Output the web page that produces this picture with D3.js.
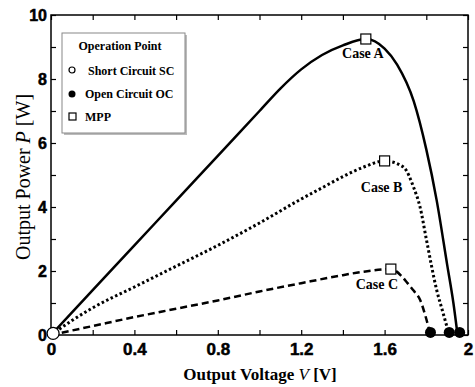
<!DOCTYPE html>
<html>
<head>
<meta charset="utf-8">
<script src="https://cdn.jsdelivr.net/npm/d3@7"></script>
<style>
  body { margin: 0; background: #fff; }
  .tick text { font-family: "Liberation Sans", Arial, sans-serif; font-weight: bold; fill: #000; stroke: #000; stroke-width: 0.5px; }
  .domain { display: none; }
  .tick line { stroke: #000; stroke-width: 1.2; }
</style>
</head>
<body>
<div id="chart"></div>
<script>
// Curve data
var voltA = [0, 0.2, 0.4, 0.6, 0.8, 1.0, 1.1, 1.2, 1.3, 1.4, 1.51, 1.6, 1.66, 1.74, 1.8, 1.85, 1.9, 1.93, 1.95];
var powerA = [0, 1.4, 2.8, 4.2, 5.6, 7.0, 7.7, 8.3, 8.75, 9.05, 9.25, 8.95, 8.45, 7.3, 5.8, 4.2, 2.2, 1.0, 0];

var voltB = [0, 0.1, 0.2, 0.4, 0.6, 0.8, 1.0, 1.2, 1.3, 1.4, 1.5, 1.6, 1.69, 1.74, 1.77, 1.8, 1.85, 1.88, 1.91];
var powerB = [0, 0.45, 0.85, 1.5, 2.15, 2.8, 3.5, 4.25, 4.6, 4.95, 5.25, 5.44, 5.25, 4.6, 4.0, 3.0, 1.4, 0.7, 0];

var voltC = [0, 0.2, 0.4, 0.6, 0.8, 1.0, 1.2, 1.4, 1.5, 1.63, 1.68, 1.71, 1.74, 1.77, 1.8, 1.82];
var powerC = [0, 0.28, 0.56, 0.82, 1.08, 1.36, 1.62, 1.87, 1.98, 2.06, 1.85, 1.62, 1.38, 1.1, 0.5, 0];

// Operation points
var scPoint = [0.01, 0.05];
var ocVolt = [1.82, 1.91, 1.96];
var ocPower = [0.08, 0.08, 0.08];
var mppVolt = [1.51, 1.60, 1.63];
var mppPower = [9.25, 5.44, 2.06];
var caseNames = ["Case A", "Case B", "Case C"];

var legendTitle = "Operation Point";
var legendItems = ["Short Circuit SC", "Open Circuit OC", "MPP"];

var xTicks = [0, 0.2, 0.4, 0.6, 0.8, 1.0, 1.2, 1.4, 1.6, 1.8, 2.0];
var yTicks = [0, 1, 2, 3, 4, 5, 6, 7, 8, 9, 10];

// Chart area
var svgWidth = 475;
var svgHeight = 387;
var margin = { top: 15, right: 7, bottom: 52, left: 51 };
var chartWidth = svgWidth - margin.left - margin.right;
var chartHeight = svgHeight - margin.top - margin.bottom;

var svg = d3.select("#chart").append("svg")
  .attr("width", svgWidth)
  .attr("height", svgHeight);

var chartGroup = svg.append("g")
  .attr("transform", `translate(${margin.left}, ${margin.top})`);

var x = d3.scaleLinear().domain([0, 2]).range([0, chartWidth]);
var y = d3.scaleLinear().domain([0, 10]).range([chartHeight, 0]);

function xFmt(d) {
  var k = Math.round(d * 10);
  if (k % 4 !== 0) return "";
  return k === 0 ? "0" : (k === 20 ? "2" : d3.format(".1f")(d));
}
function yFmt(d) { return d % 2 === 0 ? d : ""; }

// axes, ticks inward
var bottomAxis = d3.axisBottom(x).tickValues(xTicks).tickFormat(xFmt).tickSize(-5).tickPadding(8);
var leftAxis = d3.axisLeft(y).tickValues(yTicks).tickFormat(yFmt).tickSize(-5).tickPadding(4);
var topAxis = d3.axisTop(x).tickValues(xTicks).tickFormat("").tickSize(-5);
var rightAxis = d3.axisRight(y).tickValues(yTicks).tickFormat("").tickSize(-5);

chartGroup.append("g").attr("transform", `translate(0, ${chartHeight})`).call(bottomAxis)
  .selectAll("text").style("font-size", "17px");
chartGroup.append("g").call(leftAxis)
  .selectAll("text").style("font-size", "16px");
chartGroup.append("g").call(topAxis);
chartGroup.append("g").attr("transform", `translate(${chartWidth}, 0)`).call(rightAxis);

chartGroup.append("rect")
  .attr("width", chartWidth)
  .attr("height", chartHeight)
  .attr("fill", "none")
  .attr("stroke", "#000")
  .attr("stroke-width", 1.5);

// curves
var line = d3.line()
  .x(function(d) { return x(d[0]); })
  .y(function(d) { return y(d[1]); })
  .curve(d3.curveMonotoneX);

var curves = [
  { v: voltA, p: powerA, dash: null, w: 2.5 },
  { v: voltB, p: powerB, dash: "2.5,2.5", w: 3 },
  { v: voltC, p: powerC, dash: "7,4", w: 2.5 }
];

curves.forEach(function(c) {
  chartGroup.append("path")
    .datum(d3.zip(c.v, c.p))
    .attr("d", line)
    .attr("fill", "none")
    .attr("stroke", "#000")
    .attr("stroke-width", c.w)
    .attr("stroke-dasharray", c.dash);
});

// open circuit points
chartGroup.selectAll(".oc")
  .data(d3.zip(ocVolt, ocPower))
  .enter()
  .append("circle")
  .attr("cx", function(d) { return x(d[0]); })
  .attr("cy", function(d) { return y(d[1]); })
  .attr("r", 5.5)
  .attr("fill", "#000");

// short circuit point
chartGroup.append("circle")
  .attr("cx", x(scPoint[0]))
  .attr("cy", y(scPoint[1]))
  .attr("r", 6)
  .attr("fill", "#fff")
  .attr("stroke", "#000")
  .attr("stroke-width", 1.3);

// MPP squares
chartGroup.selectAll(".mpp")
  .data(d3.zip(mppVolt, mppPower))
  .enter()
  .append("rect")
  .attr("x", function(d) { return x(d[0]) - 5; })
  .attr("y", function(d) { return y(d[1]) - 5; })
  .attr("width", 10)
  .attr("height", 10)
  .attr("fill", "#fff")
  .attr("stroke", "#000")
  .attr("stroke-width", 1.2);

// case labels
var labelOffset = [[-3, 19], [-3, 31], [-14, 20]];
chartGroup.selectAll(".caseLabel")
  .data(caseNames)
  .enter()
  .append("text")
  .attr("x", function(d, i) { return x(mppVolt[i]) + labelOffset[i][0]; })
  .attr("y", function(d, i) { return y(mppPower[i]) + labelOffset[i][1]; })
  .attr("text-anchor", "middle")
  .style("font-family", "'Liberation Serif', 'Times New Roman', serif")
  .style("font-weight", "bold")
  .style("font-size", "14px")
  .text(function(d) { return d; });

// legend
var legend = svg.append("g").attr("transform", "translate(62, 33)");
legend.append("rect").attr("x", 2).attr("y", 2).attr("width", 123).attr("height", 100).attr("fill", "#bbb");
legend.append("rect").attr("width", 123).attr("height", 100)
  .attr("fill", "#fff").attr("stroke", "#888").attr("stroke-width", 1);

legend.append("text")
  .attr("x", 58).attr("y", 17)
  .attr("text-anchor", "middle")
  .style("font-family", "'Liberation Serif', serif")
  .style("font-weight", "bold")
  .style("font-size", "12px")
  .text(legendTitle);

legend.selectAll(".item")
  .data(legendItems)
  .enter()
  .append("text")
  .attr("x", function(d, i) { return i === 0 ? 26 : 23; })
  .attr("y", function(d, i) { return 42 + i * 23; })
  .style("font-family", "'Liberation Serif', serif")
  .style("font-weight", "bold")
  .style("font-size", "12px")
  .text(function(d) { return d; });

legend.append("circle").attr("cx", 10).attr("cy", 37).attr("r", 3)
  .attr("fill", "#fff").attr("stroke", "#000").attr("stroke-width", 1.2);
legend.append("circle").attr("cx", 10).attr("cy", 61).attr("r", 3.5).attr("fill", "#000");
legend.append("rect").attr("x", 7).attr("y", 80).attr("width", 7).attr("height", 7)
  .attr("fill", "#fff").attr("stroke", "#000").attr("stroke-width", 1.2);

// axis titles
var yTitle = svg.append("text")
  .attr("transform", "translate(30, 177) rotate(-90)")
  .attr("text-anchor", "middle")
  .style("font-family", "'Liberation Serif', serif")
  .style("font-size", "20px");
yTitle.append("tspan").text("Output Power ");
yTitle.append("tspan").style("font-style", "italic").text("P");
yTitle.append("tspan").text(" [W]");

var xTitle = svg.append("text")
  .attr("x", 260)
  .attr("y", 380)
  .attr("text-anchor", "middle")
  .style("font-family", "'Liberation Serif', serif")
  .style("font-weight", "bold")
  .style("font-size", "17px");
xTitle.append("tspan").text("Output Voltage ");
xTitle.append("tspan").style("font-style", "italic").style("font-weight", "normal").text("V");
xTitle.append("tspan").text(" [V]");
</script>
</body>
</html>
